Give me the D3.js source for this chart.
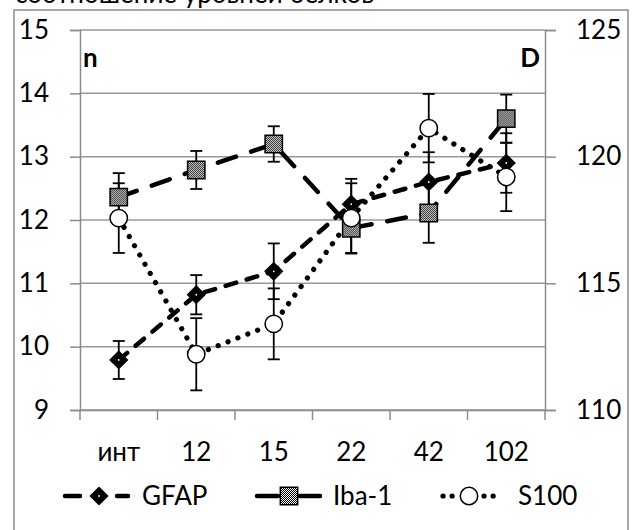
<!DOCTYPE html>
<html>
<head>
<meta charset="utf-8">
<script src="https://cdn.jsdelivr.net/npm/d3@7"></script>
<style>
  body { margin: 0; background: #fff; }
  svg text { font-family: Lato, 'Open Sans', sans-serif; fill: #000; }
</style>
</head>
<body>
<svg id="chart"></svg>
<script>
// values
const categories = ['инт', '12', '15', '22', '42', '102']
const gfap = [9.79, 10.82, 11.19, 12.25, 12.6, 12.9]
const gfapErr = [0.3, 0.31, 0.44, 0.4, 0.47, 0.47]
const iba = [12.36, 12.79, 13.2, 11.87, 12.11, 13.6]
const ibaErr = [0.38, 0.3, 0.28, 0.4, 0.47, 0.38]
const s100 = [12.03, 9.88, 10.36, 12.03, 13.45, 12.68]
const s100Err = [0.55, 0.57, 0.56, 0.55, 0.54, 0.54]
const leftTicks = [9, 10, 11, 12, 13, 14, 15]
const rightTicks = [110, 115, 120, 125]
const seriesNames = ['GFAP', 'Iba-1', 'S100']

function drawChart () {
  const width = 633
  const height = 530
  const svg = d3.select('#chart')
    .attr('width', width)
    .attr('height', height)

  const left = 80, right = 545, top = 30, bottom = 410

  const defs = svg.append('defs')
  const pat = defs.append('pattern')
    .attr('id', 'checker')
    .attr('patternUnits', 'userSpaceOnUse')
    .attr('width', 2).attr('height', 2)
  pat.append('rect').attr('width', 2).attr('height', 2).attr('fill', '#fff')
  pat.append('rect').attr('width', 1).attr('height', 1).attr('fill', '#000')
  pat.append('rect').attr('x', 1).attr('y', 1).attr('width', 1).attr('height', 1).attr('fill', '#000')

  // caption line above the frame, cut off by the page edge as in the source
  svg.append('text')
    .attr('x', 15).attr('y', 3)
    .style('font-size', '26px')
    .text('соотношение уровней белков')

  // outer frame
  svg.append('rect')
    .attr('x', 14).attr('y', 10)
    .attr('width', 614).attr('height', 540)
    .attr('fill', 'none')
    .attr('stroke', '#8c8c8c')
    .attr('stroke-width', 1.5)

  const x = d3.scaleBand().domain(categories).range([left, right])
  const y = d3.scaleLinear().domain([9, 15]).range([bottom, top])
  const yRight = d3.scaleLinear().domain([110, 125]).range([bottom, top])

  // gridlines
  svg.append('g')
    .selectAll('line')
    .data(leftTicks)
    .enter().append('line')
      .attr('x1', left).attr('x2', right)
      .attr('y1', d => y(d)).attr('y2', d => y(d))
      .attr('stroke', '#999')
      .attr('stroke-width', 1.5)

  const leftAxis = svg.append('g')
    .attr('transform', `translate(${left},0)`)
    .call(d3.axisLeft(y).tickValues(leftTicks).tickSize(10).tickPadding(21).tickFormat(d3.format('d')))
  const rightAxis = svg.append('g')
    .attr('transform', `translate(${right},0)`)
    .call(d3.axisRight(yRight).tickValues(rightTicks).tickSize(11).tickPadding(20).tickFormat(d3.format('d')))
  const xAxis = svg.append('g')
    .attr('transform', `translate(0,${bottom})`)
    .call(d3.axisBottom(x).tickSize(0).tickPadding(33))

  // category boundary ticks on x axis
  const bounds = categories.map(c => x(c)).concat([x(categories[categories.length - 1]) + x.step()])
  xAxis.selectAll('line.bound')
    .data(bounds)
    .enter().append('line')
      .attr('class', 'bound')
      .attr('x1', d => d).attr('x2', d => d)
      .attr('y1', 0).attr('y2', 10)

  ;[leftAxis, rightAxis, xAxis].forEach(a => {
    a.selectAll('path.domain').attr('stroke', '#8c8c8c').attr('stroke-width', 1.5)
    a.selectAll('line').attr('stroke', '#8c8c8c').attr('stroke-width', 1.5)
    a.selectAll('text').style('font-size', '26px').style('font-family', 'Lato, sans-serif')
  })
  xAxis.select('path.domain').attr('d', `M${left},0.5H${right}`)

  const cx = c => x(c) + x.bandwidth() / 2

  const series = [
    { name: 'GFAP', values: gfap, errs: gfapErr, dash: '11,11', lw: 4.5, marker: 'diamond' },
    { name: 'Iba-1', values: iba, errs: ibaErr, dash: '19,16', lw: 4.5, marker: 'square' },
    { name: 'S100', values: s100, errs: s100Err, dash: '0.1,10.5', lw: 5.2, marker: 'circle' }
  ]

  // error bars
  series.forEach(s => {
    const g = svg.append('g').attr('stroke', '#000').attr('stroke-width', 1.8)
    categories.forEach((c, i) => {
      const v = s.values[i], e = s.errs[i]
      g.append('line')
        .attr('x1', cx(c)).attr('x2', cx(c))
        .attr('y1', y(v + e)).attr('y2', y(v - e))
      ;[v + e, v - e].forEach(t => {
        g.append('line')
          .attr('x1', cx(c) - 6).attr('x2', cx(c) + 6)
          .attr('y1', y(t)).attr('y2', y(t))
      })
    })
  })

  const line = d3.line()
    .x((d, i) => cx(categories[i]))
    .y(d => y(d))

  series.forEach(s => {
    svg.append('path')
      .attr('d', line(s.values))
      .attr('fill', 'none')
      .attr('stroke', '#000')
      .attr('stroke-width', s.lw)
      .attr('stroke-linecap', 'round')
      .attr('stroke-dasharray', s.dash)
  })

  function marker (g, type, px, py) {
    if (type === 'diamond') {
      g.append('path')
        .attr('d', d3.symbol(d3.symbolSquare, 185)())
        .attr('transform', `translate(${px},${py}) rotate(45)`)
        .attr('fill', '#000')
      g.append('circle')
        .attr('cx', px).attr('cy', py).attr('r', 0.9)
        .attr('fill', '#fff')
    } else if (type === 'square') {
      g.append('path')
        .attr('d', d3.symbol(d3.symbolSquare, 300)())
        .attr('transform', `translate(${px},${py})`)
        .attr('fill', 'url(#checker)')
        .attr('stroke', '#000')
        .attr('stroke-width', 1.5)
    } else {
      g.append('circle')
        .attr('cx', px).attr('cy', py).attr('r', 8.7)
        .attr('fill', '#fff')
        .attr('stroke', '#000')
        .attr('stroke-width', 1.5)
    }
  }

  series.forEach(s => {
    const g = svg.append('g')
    categories.forEach((c, i) => marker(g, s.marker, cx(c), y(s.values[i])))
  })

  // panel letters
  svg.append('text').attr('x', 83).attr('y', 67)
    .style('font-size', '26px').style('font-weight', 'bold').text('n')
  svg.append('text').attr('x', 540).attr('y', 67).attr('text-anchor', 'end')
    .style('font-size', '26px').style('font-weight', 'bold').text('D')

  // legend
  const legendY = 496
  const legendItems = [
    { s: series[0], c: 99, segs: [[65, 80], [117, 128]], tx: 142 },
    { s: series[1], c: 289, segs: [[257, 278], [300, 320]], tx: 333 },
    { s: series[2], c: 469, segs: [[443, 452.5], [484, 493.5]], tx: 518 }
  ]
  const lg = svg.append('g')
  legendItems.forEach(it => {
    it.segs.forEach(([a, b]) => {
      lg.append('line')
        .attr('x1', a).attr('x2', b)
        .attr('y1', legendY).attr('y2', legendY)
        .attr('stroke', '#000')
        .attr('stroke-width', it.s.lw)
        .attr('stroke-linecap', 'round')
        .attr('stroke-dasharray', it.s.marker === 'circle' ? '0.1,9' : null)
    })
    marker(lg, it.s.marker, it.c, legendY)
    lg.append('text')
      .attr('x', it.tx).attr('y', legendY + 9)
      .style('font-size', '26px')
      .text(it.s.name)
  })
}

drawChart()
</script>
</body>
</html>
